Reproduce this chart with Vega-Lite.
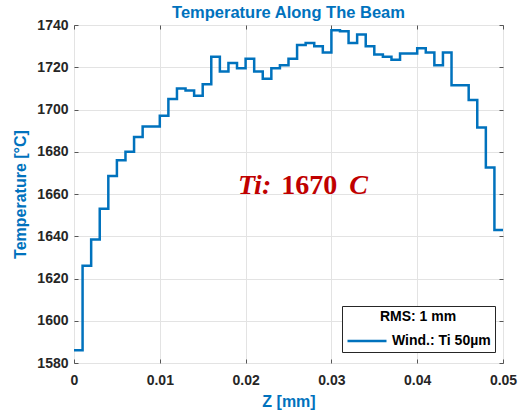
{
  "$schema": "https://vega.github.io/schema/vega-lite/v6.json",
  "width": 429,
  "height": 338,
  "autosize": "none",
  "padding": {"left": 74, "top": 25, "right": 18, "bottom": 49},
  "background": "white",
  "title": {"text": "Temperature Along The Beam", "color": "#0072BD", "font": "Liberation Sans", "fontSize": 16.5, "fontWeight": "bold", "anchor": "middle", "offset": 4, "dy": 7},
  "config": {
    "view": {"stroke": "#808080", "strokeWidth": 1},
    "axis": {
      "labelFont": "Liberation Sans", "labelFontSize": 14, "labelFontWeight": "bold", "labelColor": "#262626",
      "titleFont": "Liberation Sans", "titleFontSize": 16, "titleFontWeight": "bold", "titleColor": "#0072BD",
      "gridColor": "#e3e3e3", "gridWidth": 1, "domain": false,
      "tickColor": "#555555", "tickSize": -4, "tickWidth": 1
    },
    "legend": {
      "orient": "none", "legendX": 268, "legendY": 281,
      "strokeColor": "#262626", "fillColor": "white", "padding": 4, "cornerRadius": 0,
      "titleFont": "Liberation Sans", "titleFontSize": 14, "titleFontWeight": "bold", "titleColor": "#000000",
      "titleAnchor": "middle", "titlePadding": -4,
      "labelFont": "Liberation Sans", "labelFontSize": 14, "labelFontWeight": "bold", "labelColor": "#000000",
      "symbolType": "stroke", "symbolSize": 1521, "symbolStrokeWidth": 2.5, "labelOffset": 4
    }
  },
  "layer": [
    {
      "data": {"values": [
        {"z": 0.000, "T": 1586, "series": "Wind.: Ti 50µm"},
        {"z": 0.001, "T": 1626, "series": "Wind.: Ti 50µm"},
        {"z": 0.002, "T": 1638.5, "series": "Wind.: Ti 50µm"},
        {"z": 0.003, "T": 1653, "series": "Wind.: Ti 50µm"},
        {"z": 0.004, "T": 1668.5, "series": "Wind.: Ti 50µm"},
        {"z": 0.005, "T": 1676, "series": "Wind.: Ti 50µm"},
        {"z": 0.006, "T": 1680, "series": "Wind.: Ti 50µm"},
        {"z": 0.007, "T": 1687, "series": "Wind.: Ti 50µm"},
        {"z": 0.008, "T": 1692, "series": "Wind.: Ti 50µm"},
        {"z": 0.009, "T": 1692, "series": "Wind.: Ti 50µm"},
        {"z": 0.010, "T": 1697, "series": "Wind.: Ti 50µm"},
        {"z": 0.011, "T": 1705, "series": "Wind.: Ti 50µm"},
        {"z": 0.012, "T": 1710, "series": "Wind.: Ti 50µm"},
        {"z": 0.013, "T": 1709, "series": "Wind.: Ti 50µm"},
        {"z": 0.014, "T": 1706.5, "series": "Wind.: Ti 50µm"},
        {"z": 0.015, "T": 1712, "series": "Wind.: Ti 50µm"},
        {"z": 0.016, "T": 1725, "series": "Wind.: Ti 50µm"},
        {"z": 0.017, "T": 1718, "series": "Wind.: Ti 50µm"},
        {"z": 0.018, "T": 1722, "series": "Wind.: Ti 50µm"},
        {"z": 0.019, "T": 1719.5, "series": "Wind.: Ti 50µm"},
        {"z": 0.020, "T": 1724, "series": "Wind.: Ti 50µm"},
        {"z": 0.021, "T": 1718, "series": "Wind.: Ti 50µm"},
        {"z": 0.022, "T": 1714.5, "series": "Wind.: Ti 50µm"},
        {"z": 0.023, "T": 1719.5, "series": "Wind.: Ti 50µm"},
        {"z": 0.024, "T": 1721, "series": "Wind.: Ti 50µm"},
        {"z": 0.025, "T": 1724, "series": "Wind.: Ti 50µm"},
        {"z": 0.026, "T": 1730.5, "series": "Wind.: Ti 50µm"},
        {"z": 0.027, "T": 1731.5, "series": "Wind.: Ti 50µm"},
        {"z": 0.028, "T": 1730, "series": "Wind.: Ti 50µm"},
        {"z": 0.029, "T": 1727, "series": "Wind.: Ti 50µm"},
        {"z": 0.030, "T": 1737.5, "series": "Wind.: Ti 50µm"},
        {"z": 0.031, "T": 1737, "series": "Wind.: Ti 50µm"},
        {"z": 0.032, "T": 1731.5, "series": "Wind.: Ti 50µm"},
        {"z": 0.033, "T": 1735.5, "series": "Wind.: Ti 50µm"},
        {"z": 0.034, "T": 1730, "series": "Wind.: Ti 50µm"},
        {"z": 0.035, "T": 1726, "series": "Wind.: Ti 50µm"},
        {"z": 0.036, "T": 1725, "series": "Wind.: Ti 50µm"},
        {"z": 0.037, "T": 1723.5, "series": "Wind.: Ti 50µm"},
        {"z": 0.038, "T": 1726.5, "series": "Wind.: Ti 50µm"},
        {"z": 0.039, "T": 1726.5, "series": "Wind.: Ti 50µm"},
        {"z": 0.040, "T": 1729, "series": "Wind.: Ti 50µm"},
        {"z": 0.041, "T": 1727, "series": "Wind.: Ti 50µm"},
        {"z": 0.042, "T": 1721, "series": "Wind.: Ti 50µm"},
        {"z": 0.043, "T": 1727, "series": "Wind.: Ti 50µm"},
        {"z": 0.044, "T": 1711.5, "series": "Wind.: Ti 50µm"},
        {"z": 0.045, "T": 1711.5, "series": "Wind.: Ti 50µm"},
        {"z": 0.046, "T": 1704.5, "series": "Wind.: Ti 50µm"},
        {"z": 0.047, "T": 1691.5, "series": "Wind.: Ti 50µm"},
        {"z": 0.048, "T": 1672.5, "series": "Wind.: Ti 50µm"},
        {"z": 0.049, "T": 1643, "series": "Wind.: Ti 50µm"},
        {"z": 0.050, "T": 1643, "series": "Wind.: Ti 50µm"}
      ]},
      "mark": {"type": "line", "interpolate": "step-after", "strokeWidth": 2.5, "clip": true},
      "encoding": {
        "x": {"field": "z", "type": "quantitative", "title": "Z [mm]",
              "scale": {"domain": [0, 0.05], "nice": false, "zero": false},
              "axis": {"values": [0, 0.01, 0.02, 0.03, 0.04, 0.05], "format": ".2~f", "labelPadding": 14, "titlePadding": 6, "labelFlush": false}},
        "y": {"field": "T", "type": "quantitative", "title": "Temperature [°C]",
              "scale": {"domain": [1580, 1740], "nice": false, "zero": false},
              "axis": {"values": [1580, 1600, 1620, 1640, 1660, 1680, 1700, 1720, 1740], "format": "d", "labelPadding": 10, "titlePadding": 8}},
        "color": {"field": "series", "type": "nominal", "scale": {"range": ["#0072BD"]}, "legend": {"title": "RMS: 1 mm"}}
      }
    },
    {
      "data": {"values": [{}]},
      "mark": {"type": "text", "text": "Ti:", "font": "Liberation Serif", "fontSize": 28, "fontWeight": "bold", "fontStyle": "italic", "color": "#C00000", "align": "right", "baseline": "alphabetic", "dx": -5},
      "encoding": {
        "x": {"datum": 0.02357, "type": "quantitative", "axis": {"orient": "top", "labels": false, "grid": false, "title": null, "values": [0, 0.01, 0.02, 0.03, 0.04, 0.05]}},
        "y": {"datum": 1660, "type": "quantitative", "axis": {"orient": "right", "labels": false, "grid": false, "title": null, "values": [1580, 1600, 1620, 1640, 1660, 1680, 1700, 1720, 1740]}}
      }
    },
    {
      "data": {"values": [{}]},
      "mark": {"type": "text", "text": "1670", "font": "Liberation Serif", "fontSize": 28, "fontWeight": "bold", "color": "#C00000", "align": "left", "baseline": "alphabetic", "dx": 5},
      "encoding": {
        "x": {"datum": 0.02357, "type": "quantitative", "axis": null},
        "y": {"datum": 1660, "type": "quantitative", "axis": null}
      }
    },
    {
      "data": {"values": [{}]},
      "mark": {"type": "text", "text": "C", "font": "Liberation Serif", "fontSize": 28, "fontWeight": "bold", "fontStyle": "italic", "color": "#C00000", "align": "left", "baseline": "alphabetic", "dx": 73},
      "encoding": {
        "x": {"datum": 0.02357, "type": "quantitative", "axis": null},
        "y": {"datum": 1660, "type": "quantitative", "axis": null}
      }
    },
    {
      "data": {"values": [{}]},
      "mark": {"type": "rule", "color": "#262626", "strokeWidth": 1},
      "encoding": {
        "x": {"datum": 0.03124, "type": "quantitative", "axis": null},
        "x2": {"datum": 0.04895},
        "y": {"datum": 1596.9, "type": "quantitative", "axis": null}
      }
    }
  ],
  "resolve": {"axis": {"x": "independent", "y": "independent"}}
}
